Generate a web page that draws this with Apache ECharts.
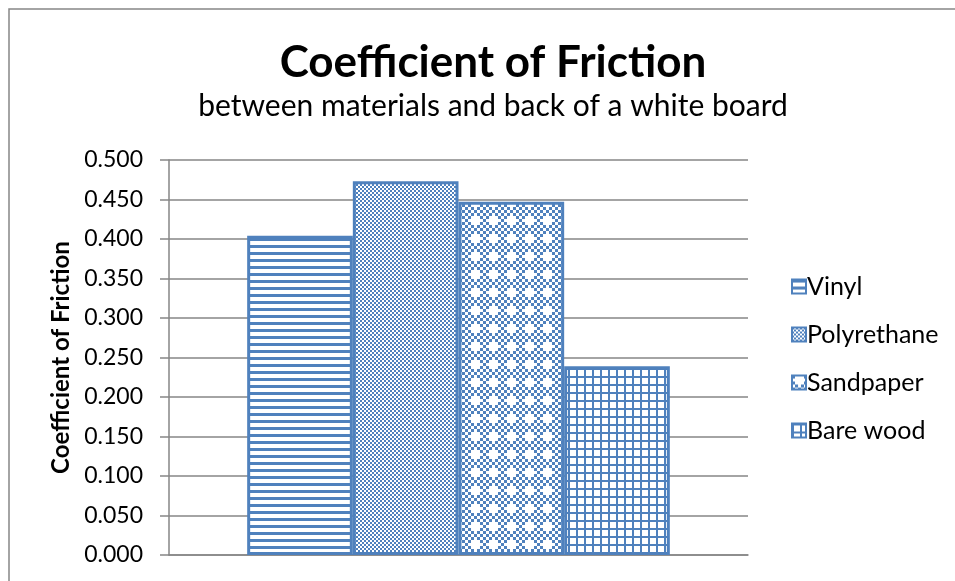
<!DOCTYPE html>
<html>
<head>
<meta charset="utf-8">
<script src="https://cdn.jsdelivr.net/npm/echarts@6/dist/echarts.min.js"></script>
<style>
  body { margin: 0; background: #fff; }
  #chart { width: 955px; height: 581px; }
</style>
</head>
<body>
<div id="chart"></div>
<script>
// data
var materials = ['Vinyl', 'Polyrethane', 'Sandpaper', 'Bare wood'];
var friction = [0.404, 0.473, 0.447, 0.239];
var yTicks = { min: 0, max: 0.5, step: 0.05 };

var BLUE = '#4F81BD';
var FONT = 'Lato';

// fill patterns, drawn on small canvases
function tile(w, h, draw) {
  var c = document.createElement('canvas');
  c.width = w; c.height = h;
  var ctx = c.getContext('2d');
  ctx.fillStyle = '#fff'; ctx.fillRect(0, 0, w, h);
  ctx.fillStyle = BLUE;
  draw(ctx);
  return { image: c, repeat: 'repeat' };
}
var patterns = [
  // horizontal stripes
  tile(7, 7, function (ctx) { ctx.fillRect(0, 0, 7, 3); }),
  // fine checker
  tile(4, 4, function (ctx) { ctx.fillRect(0, 0, 2, 2); ctx.fillRect(2, 2, 2, 2); }),
  // coarse checker with white crosses
  tile(18, 18, function (ctx) {
    for (var i = 0; i < 6; i++) for (var j = 0; j < 6; j++)
      if ((i + j) % 2 === 0) ctx.fillRect(i * 3, j * 3, 3, 3);
    ctx.fillStyle = '#fff';
    ctx.fillRect(6, 0, 3, 9); ctx.fillRect(3, 3, 9, 3);
  }),
  // grid
  tile(8, 8, function (ctx) { ctx.fillRect(0, 0, 8, 2); ctx.fillRect(0, 0, 2, 8); })
];

var chart = echarts.init(document.getElementById('chart'));

var series = materials.map(function (m, i) {
  return {
    name: m,
    type: 'bar',
    data: [friction[i]],
    barGap: 0,
    barCategoryGap: '27%',
    itemStyle: { color: patterns[i], borderColor: BLUE, borderWidth: 3 }
  };
});

chart.setOption({
  animation: false,
  textStyle: { fontFamily: FONT },
  title: [
    { text: 'Coefficient of Friction', left: 488, top: 36, textAlign: 'center',
      textStyle: { fontSize: 44, fontWeight: 'bold', color: '#000', fontFamily: FONT } },
    { text: 'between materials and back of a white board', left: 488, top: 86, textAlign: 'center',
      textStyle: { fontSize: 30, fontWeight: 'normal', color: '#000', fontFamily: FONT } }
  ],
  graphic: [{
    type: 'rect', shape: { x: 9, y: 9, width: 1000, height: 1000 },
    style: { fill: 'none', stroke: '#868686', lineWidth: 1.5 }
  }],
  legend: {
    orient: 'vertical', left: 786, top: 269,
    itemWidth: 14, itemHeight: 14, itemGap: 23,
    icon: 'rect',
    textStyle: { fontSize: 25, lineHeight: 25, color: '#000', fontFamily: FONT, padding: [0, 0, 0, -4] },
    data: materials
  },
  grid: { left: 169, right: 207, top: 160, bottom: 26 },
  xAxis: {
    type: 'category', data: [''],
    axisLine: { lineStyle: { color: '#868686', width: 1.5 } },
    axisTick: { show: false }, axisLabel: { show: false }
  },
  yAxis: {
    type: 'value', min: yTicks.min, max: yTicks.max, interval: yTicks.step,
    name: 'Coefficient of Friction', nameLocation: 'middle', nameGap: 95,
    nameTextStyle: { fontSize: 24, fontWeight: 'bold', color: '#000', fontFamily: FONT },
    axisLine: { show: true, lineStyle: { color: '#868686', width: 1.5 } },
    axisTick: { show: true, length: 9, lineStyle: { color: '#868686', width: 1.5 } },
    axisLabel: { fontSize: 23, color: '#000', margin: 26, fontFamily: FONT,
      formatter: function (v) { return v.toFixed(3); } },
    splitLine: { lineStyle: { color: '#868686', width: 1.5 } }
  },
  series: series
});
</script>
</body>
</html>
